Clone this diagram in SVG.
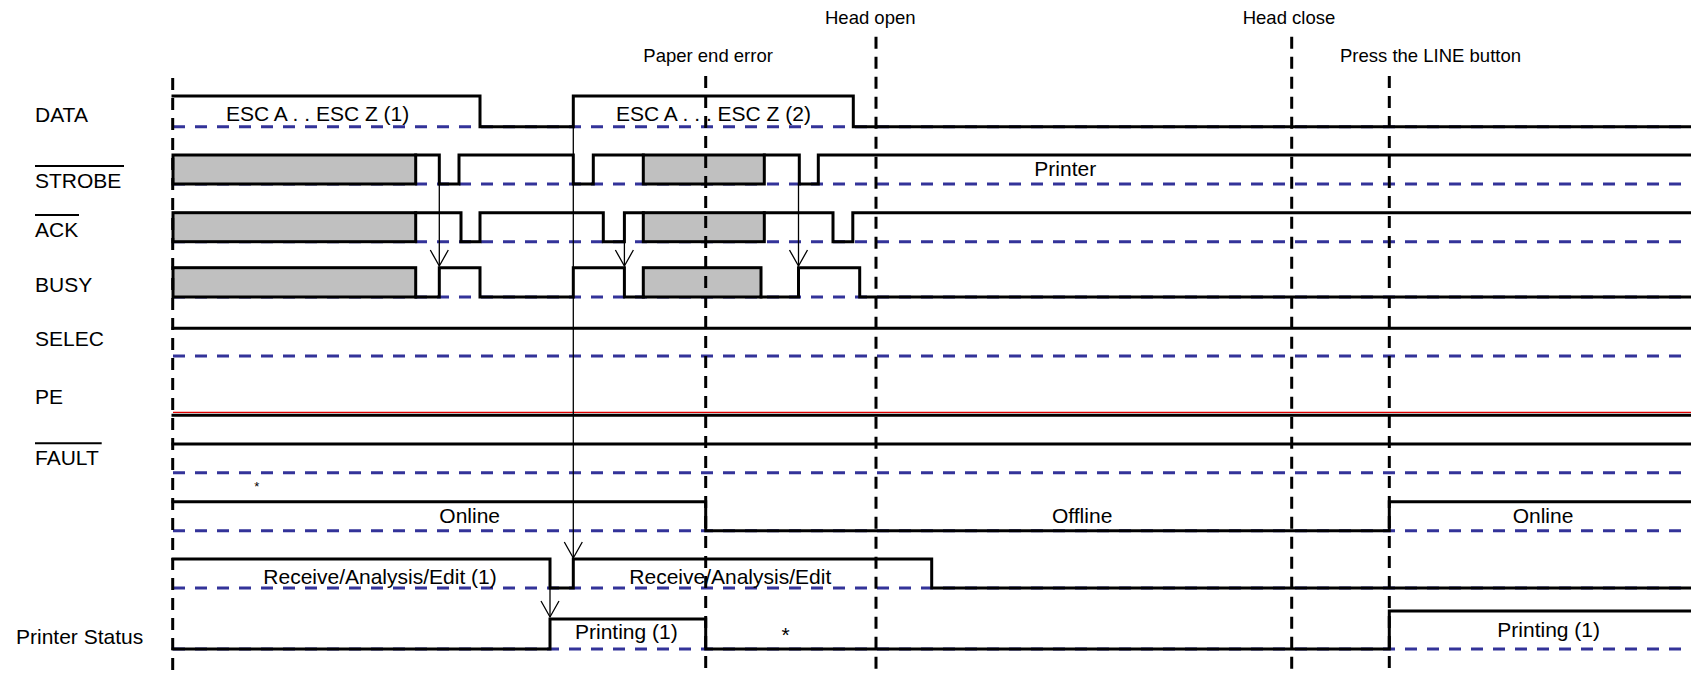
<svg xmlns="http://www.w3.org/2000/svg" width="1691" height="673" viewBox="0 0 1691 673">
<style>
text{font-family:"Liberation Sans",Arial,sans-serif;font-size:21px;fill:#000}
.top{font-size:18.5px}
.sm{font-size:13px}
.sig{fill:none;stroke:#000;stroke-width:3;stroke-linejoin:miter;stroke-linecap:square}
.ref{fill:none;stroke:#333399;stroke-width:3;stroke-dasharray:12 10}
.vd{fill:none;stroke:#000;stroke-width:3;stroke-dasharray:12 8}
.box{fill:#c0c0c0;stroke:#000;stroke-width:3}
.ov{stroke:#000;stroke-width:2}
.arr{fill:none;stroke:#000;stroke-width:1.3;marker-end:url(#v)}
</style>
<defs>
<marker id="v" markerUnits="userSpaceOnUse" markerWidth="20" markerHeight="20" viewBox="0 0 20 20" refX="18" refY="10" orient="auto">
<path d="M2,1 L18,10 L2,19" fill="none" stroke="#000" stroke-width="1.3"/>
</marker>
</defs>
<rect width="1691" height="673" fill="#fff"/>

<g id="labels">
<text x="35" y="122.3">DATA</text>
<text x="35" y="188.3">STROBE</text><line class="ov" x1="35" y1="166" x2="124" y2="166"/>
<text x="35" y="237.3">ACK</text><line class="ov" x1="35" y1="215" x2="79" y2="215"/>
<text x="35" y="292.3">BUSY</text>
<text x="35" y="345.7">SELEC</text>
<text x="35" y="404">PE</text>
<text x="35" y="465">FAULT</text><line class="ov" x1="35" y1="443.3" x2="101.7" y2="443.3"/>
<text x="16" y="644">Printer Status</text>
</g>

<g id="sig-data">
<line class="ref" x1="173" y1="126.7" x2="1691" y2="126.7"/>
<path class="sig" d="M173,96 H480 V126.7 H573.3 V96 H853.3 V126.7 H1691"/>
<text x="226" y="121">ESC A . . ESC Z (1)</text>
<text x="616" y="121">ESC A . . . ESC Z (2)</text>
</g>

<g id="sig-strobe">
<line class="ref" x1="173" y1="184" x2="1691" y2="184"/>
<rect class="box" x="173" y="155" width="242.7" height="29"/>
<rect class="box" x="643.3" y="155" width="121" height="29"/>
<path class="sig" d="M415.7,155 H439.3 V184 H459 V155 H573.3 V184 H593.3 V155 H643.3"/>
<path class="sig" d="M764.3,155 H799.3 V184 H818.3 V155 H1691"/>
<text x="1034.3" y="175.7">Printer</text>
</g>

<g id="sig-ack">
<line class="ref" x1="173" y1="241.7" x2="1691" y2="241.7"/>
<rect class="box" x="173" y="212.7" width="242.7" height="29"/>
<rect class="box" x="643.3" y="212.7" width="121" height="29"/>
<path class="sig" d="M415.7,212.7 H461 V241.7 H480 V212.7 H603.3 V241.7 H624.4 V212.7 H643.3"/>
<path class="sig" d="M764.3,212.7 H833 V241.7 H852.8 V212.7 H1691"/>
</g>

<g id="sig-busy">
<line class="ref" x1="173" y1="297" x2="1691" y2="297"/>
<rect class="box" x="173" y="267.7" width="242.7" height="29.3"/>
<rect class="box" x="643.3" y="267.7" width="117.7" height="29.3"/>
<path class="sig" d="M415.7,297 H439.3 V267.7 H480 V297 H573.3 V267.7 H624.4 V297 H643.3"/>
<path class="sig" d="M761,297 H798.5 V267.7 H859.7 V297 H1691"/>
</g>

<g id="sig-selec">
<line class="ref" x1="173" y1="356" x2="1691" y2="356"/>
<path class="sig" d="M173,328.3 H1691"/>
</g>

<g id="sig-pe">
<line x1="173" y1="412.3" x2="1691" y2="412.3" stroke="#e00000" stroke-width="1.3"/>
<path class="sig" d="M173,415.3 H1691"/>
</g>

<g id="sig-fault">
<line class="ref" x1="173" y1="472.7" x2="1691" y2="472.7"/>
<path class="sig" d="M173,444 H1691"/>
<text class="sm" x="256.7" y="491" text-anchor="middle">*</text>
</g>

<g id="sig-online">
<line class="ref" x1="173" y1="530.7" x2="1691" y2="530.7"/>
<path class="sig" d="M173,501.7 H705.7 V530.7 H1389.3 V501.7 H1691"/>
<text x="439.3" y="523.3">Online</text>
<text x="1052" y="523.3">Offline</text>
<text x="1512.7" y="523.3">Online</text>
</g>

<g id="sig-receive">
<line class="ref" x1="173" y1="588" x2="1691" y2="588"/>
<path class="sig" d="M173,559 H550 V588 H573.3 V559 H931.7 V588 H1691"/>
<text x="263.3" y="583.8">Receive/Analysis/Edit (1)</text>
<text x="629.3" y="584.3">Receive/Analysis/Edit</text>
</g>

<g id="sig-status">
<line class="ref" x1="173" y1="649" x2="1691" y2="649"/>
<path class="sig" d="M173,649 H550 V619 H705.7 V649 H1389.3 V611 H1691"/>
<text x="575" y="639">Printing (1)</text>
<text x="785.7" y="642" text-anchor="middle">*</text>
<text x="1497.3" y="636.7">Printing (1)</text>
</g>

<g id="markers">
<line class="vd" x1="172.7" y1="78" x2="172.7" y2="673"/>
<line class="vd" x1="705.7" y1="76" x2="705.7" y2="673"/>
<line class="vd" x1="876" y1="36.7" x2="876" y2="673"/>
<line class="vd" x1="1291.7" y1="36.7" x2="1291.7" y2="673"/>
<line class="vd" x1="1389.3" y1="76" x2="1389.3" y2="673"/>
<text class="top" x="643.3" y="62">Paper end error</text>
<text class="top" x="825" y="24">Head open</text>
<text class="top" x="1242.7" y="24">Head close</text>
<text class="top" x="1340" y="62">Press the LINE button</text>
</g>

<g id="connectors">
<line class="arr" x1="439.3" y1="184" x2="439.3" y2="266"/>
<line class="arr" x1="624.4" y1="241.7" x2="624.4" y2="266"/>
<line class="arr" x1="798.5" y1="184" x2="798.5" y2="266"/>
<line class="arr" x1="573.3" y1="96" x2="573.3" y2="558"/>
<line class="arr" x1="550" y1="588" x2="550" y2="617"/>
</g>
</svg>
